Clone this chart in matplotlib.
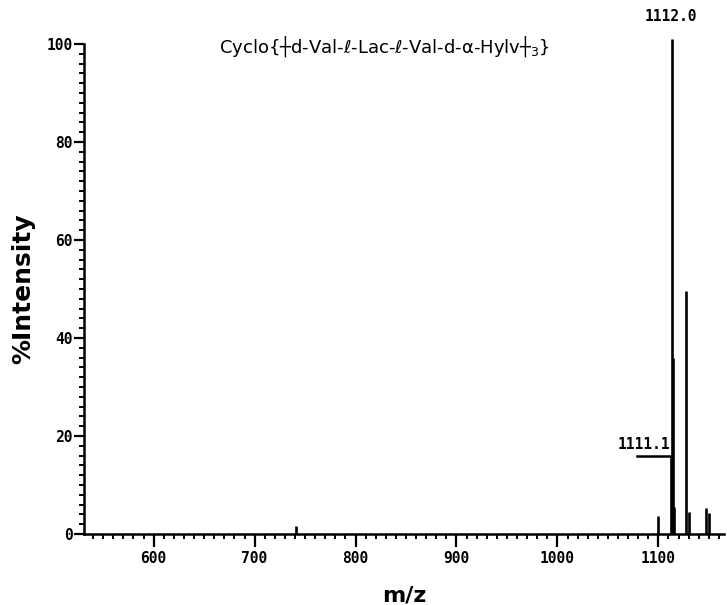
import matplotlib
matplotlib.use("Agg")
import matplotlib.pyplot as plt
from matplotlib.ticker import MultipleLocator

# stick spectrum, m/z vs % intensity
mz = [740.6, 1099.3, 1112.6, 1113.6, 1114.4, 1115.0, 1127.4, 1130.0, 1147.2, 1150.5]
intensity = [1.6, 3.7, 16.0, 101.0, 36.0, 5.5, 49.5, 4.5, 5.3, 4.3]

x_ticks = [600, 700, 800, 900, 1000, 1100]
y_ticks = [0, 20, 40, 60, 80, 100]
label_main = "1112.0"
label_side = "1111.1"
title = "Cyclo{┼d-Val-ℓ-Lac-ℓ-Val-d-α-Hylv┼$_3$}"

w_px, h_px, dpi = 727, 605, 100
fig = plt.figure(figsize=(w_px / dpi, h_px / dpi), dpi=dpi)
ax = fig.add_axes([84 / w_px, 71 / h_px, 640 / w_px, 490 / h_px])

ax.vlines(mz, 0, intensity, colors="black", linewidth=1.9, clip_on=False)

ax.set_xlim(531, 1165)
ax.set_ylim(0, 100)

ax.spines["top"].set_visible(False)
ax.spines["right"].set_visible(False)
for s in ("left", "bottom"):
    ax.spines[s].set_linewidth(1.8)

ax.set_xticks(x_ticks)
ax.set_yticks(y_ticks)
ax.xaxis.set_minor_locator(MultipleLocator(10))
ax.yaxis.set_minor_locator(MultipleLocator(2))
ax.tick_params(which="major", direction="out", length=7, width=1.6)
ax.tick_params(which="minor", direction="out", length=3.5, width=1.4)
ax.tick_params(axis="x", which="major", length=9)

tick_font = dict(family="DejaVu Sans Mono", weight="bold", size=10.5)
ax.set_xticklabels([str(v) for v in x_ticks], **tick_font)
ax.set_yticklabels([str(v) for v in y_ticks], **tick_font)
ax.tick_params(axis="y", pad=1)
ax.tick_params(axis="x", pad=3)

ax.set_xlabel("m/z", fontsize=16, fontweight="bold", labelpad=14)
ax.set_ylabel("%Intensity", fontsize=18, fontweight="bold", labelpad=8)

ax.text(0.47, 0.995, title, transform=ax.transAxes, ha="center", va="center",
        fontsize=13)

# peak annotations
ax.text(1112.6, 104.0, label_main, ha="center", va="bottom", clip_on=False, **tick_font)
ax.plot([1079, 1113.4], [16, 16], color="black", linewidth=1.8)
ax.text(1112.0, 16.8, label_side, ha="right", va="bottom", **tick_font)

fig.savefig("out.png", dpi=dpi)
plt.close(fig)
